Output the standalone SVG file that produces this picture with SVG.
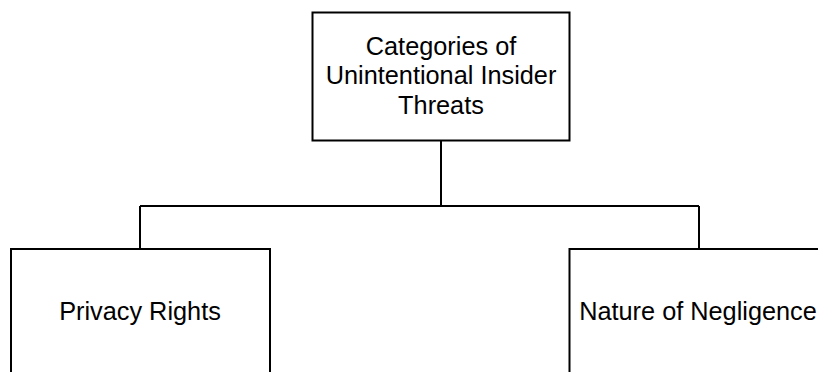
<svg xmlns="http://www.w3.org/2000/svg" width="818" height="372" viewBox="0 0 818 372">
<style>
.box{fill:#fff;stroke:#000;stroke-width:2}
.lbl{font-family:"Liberation Sans",Arial,sans-serif;font-size:25.3px;fill:#000;text-anchor:middle}
.edge{fill:none;stroke:#000;stroke-width:2}
</style>
<rect width="818" height="372" fill="#fff"/>
<g id="connectors">
<path class="edge" d="M441,140.5 V206 M140,206 H699 M140,206 V249 M699,206 V249"/>
</g>
<g id="root">
<rect class="box" x="312.5" y="12.5" width="257" height="128"/>
<text class="lbl" x="441" y="54.5">Categories of</text>
<text class="lbl" x="441" y="84">Unintentional Insider</text>
<text class="lbl" x="441" y="113.5">Threats</text>
</g>
<g id="privacy">
<rect class="box" x="11" y="249" width="259" height="128"/>
<text class="lbl" x="140" y="320">Privacy Rights</text>
</g>
<g id="negligence">
<rect class="box" x="569.5" y="249" width="259" height="128"/>
<text class="lbl" x="698" y="320">Nature of Negligence</text>
</g>
</svg>
